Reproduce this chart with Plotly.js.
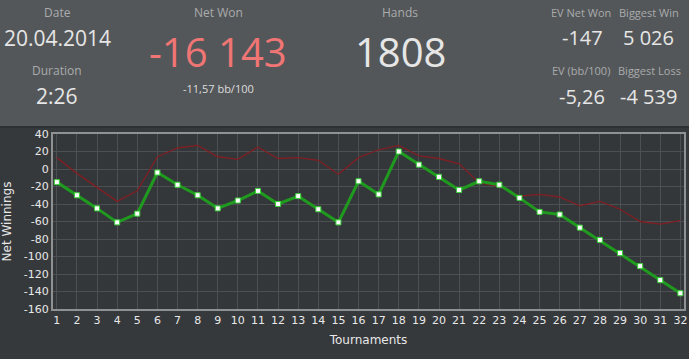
<!DOCTYPE html>
<html>
<head>
<meta charset="utf-8">
<script src="https://cdn.plot.ly/plotly-3.0.1.min.js"></script>
<style>
html,body{margin:0;padding:0;background:#36393c;overflow:hidden;}
#chart{width:689px;height:359px;}
</style>
</head>
<body>
<div id="chart"></div>
<script>
const tournaments = [1,2,3,4,5,6,7,8,9,10,11,12,13,14,15,16,17,18,19,20,21,22,23,24,25,26,27,28,29,30,31,32];
const netWinnings = [-15,-30,-45,-61,-51,-4,-18,-30,-45,-36,-25,-40,-31,-46,-61,-14,-29,20,5,-9,-24,-14,-18,-33,-49,-52,-67,-81,-96,-111,-127,-142];
const evWinnings = [13,-5,-21,-37,-25,14,24,27,14,11,25,12,13,10,-6,13,22,27,15,12,6,-16,-20,-31,-29,-32,-42,-37,-46,-60,-63,-59];
const yTicks = [40,20,0,-20,-40,-60,-80,-100,-120,-140,-160];

const W = 689, H = 359;
const mL = 53, mR = 5, mT = 134, mB = 50;
const pw = W - mL - mR, ph = H - mT - mB;
const px = x => (x - mL) / pw;
const py = y => (H - mB - y) / ph;

const lblFont = '"Open Sans", "Noto Sans", sans-serif';
const valFont = '"Open Sans", "Noto Sans", sans-serif';
const labelColor = '#a9abad';
const valueColor = '#e6e6e6';

function ann(text, x, y, size, color, fam, anchor) {
  return {text: text, xref: 'paper', yref: 'paper', x: px(x), y: py(y),
    xanchor: anchor || 'center', yanchor: 'middle', showarrow: false,
    font: {family: fam, size: size, color: color}};
}

const annotations = [
  ann('Date', 57, 12, 12, labelColor, lblFont),
  ann('20.04.2014', 57, 38, 21, valueColor, valFont),
  ann('Duration', 57, 71, 12, labelColor, lblFont),
  ann('2:26', 57, 96, 21, valueColor, valFont),
  ann('Net Won', 218, 12, 12, labelColor, lblFont),
  ann('-16 143', 218, 52, 40, '#f07575', valFont),
  ann('-11,57 bb/100', 218, 88, 11, '#dddddd', valFont),
  ann('Hands', 400, 12, 12, labelColor, lblFont),
  ann('1808', 400, 51, 40, valueColor, valFont),
  ann('EV Net Won', 613, 12, 11, labelColor, lblFont, 'right'),
  ann('Biggest Win', 617, 12, 11, labelColor, lblFont, 'left'),
  ann('-147', 582, 37, 20, valueColor, valFont),
  ann('5 026', 648, 37, 20, valueColor, valFont),
  ann('EV (bb/100)', 612, 71, 11, labelColor, lblFont, 'right'),
  ann('Biggest Loss', 616, 71, 11, labelColor, lblFont, 'left'),
  ann('-5,26', 582, 96, 20, valueColor, valFont),
  ann('-4 539', 648, 96, 20, valueColor, valFont)
];

const shapes = [
  {type: 'rect', xref: 'paper', yref: 'paper', x0: px(-5), x1: px(W + 5), y0: py(126), y1: py(-5),
   fillcolor: '#545759', line: {width: 0}, layer: 'below'},
  {type: 'line', xref: 'paper', yref: 'paper', x0: px(-5), x1: px(W + 5), y0: py(127), y1: py(127),
   line: {color: '#2e3033', width: 2}}
];

const traces = [
  {x: tournaments, y: evWinnings, type: 'scatter', mode: 'lines',
   line: {color: '#801f24', width: 1.3}, hoverinfo: 'skip'},
  {x: tournaments, y: netWinnings, type: 'scatter', mode: 'lines+markers',
   line: {color: '#1f9a1f', width: 3},
   marker: {symbol: 'square', size: 5, color: '#ffffff', line: {color: '#3ad13a', width: 1}}}
];

const layout = {
  width: W, height: H,
  margin: {l: mL, r: mR, t: mT, b: mB, pad: 0},
  paper_bgcolor: '#36393c',
  plot_bgcolor: '#34373a',
  showlegend: false,
  font: {family: 'DejaVu Sans, Verdana, sans-serif', color: '#e0e0e0', size: 11},
  xaxis: {
    range: [0.81, 32.18], tickvals: tournaments, ticktext: tournaments.map(String),
    showgrid: true, gridcolor: '#4d5053', gridwidth: 1,
    showline: true, mirror: true, linecolor: '#8f9193', linewidth: 2,
    ticks: '', zeroline: false,
    tickfont: {family: 'DejaVu Sans, Verdana, sans-serif', size: 11, color: '#e8e8e8'},
    title: {text: 'Tournaments', standoff: 9, font: {family: 'DejaVu Sans, Verdana, sans-serif', size: 12, color: '#e8e8e8'}}
  },
  yaxis: {
    range: [-160, 40], tickvals: yTicks, ticktext: yTicks.map(String),
    showgrid: true, gridcolor: '#4d5053', gridwidth: 1,
    showline: true, mirror: true, linecolor: '#8f9193', linewidth: 2,
    ticks: '', zeroline: false,
    tickfont: {family: 'DejaVu Sans, Verdana, sans-serif', size: 11, color: '#e8e8e8'},
    title: {text: 'Net Winnings', standoff: 10, font: {family: 'DejaVu Sans, Verdana, sans-serif', size: 12, color: '#e8e8e8'}}
  },
  annotations: annotations,
  shapes: shapes
};

Plotly.newPlot('chart', traces, layout, {staticPlot: true, displayModeBar: false});
</script>
</body>
</html>
